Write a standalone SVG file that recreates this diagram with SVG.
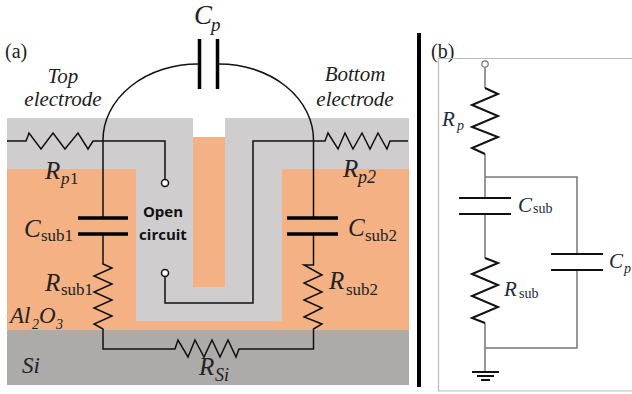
<svg xmlns="http://www.w3.org/2000/svg" width="632" height="394" viewBox="0 0 632 394">
<style>
.w{fill:none;stroke:#111;stroke-width:1.5;stroke-linejoin:miter}
.g{fill:none;stroke:#777;stroke-width:1.5}
.z{fill:none;stroke:#111;stroke-width:2}
.p{fill:none;stroke:#000;stroke-width:3.5}
.o{fill:#fff;stroke:#111;stroke-width:1.5}
text{font-family:"Liberation Serif",serif;fill:#222}
.i{font-style:italic}
.s{font-family:"Open Sans",sans-serif;font-weight:700;font-size:15px;fill:#111}
.b{fill:#1a2a3a}
</style>
<g id="device">
<rect x="7" y="118" width="186" height="52" fill="#cfcdce"/>
<rect x="225" y="118" width="184" height="52" fill="#cfcdce"/>
<rect x="7" y="169" width="402" height="161" fill="#f4b183"/>
<rect x="136" y="169" width="146" height="152" fill="#cfcdce"/>
<rect x="193" y="137" width="32" height="150" fill="#f4b183"/>
<rect x="7" y="330" width="402" height="55" fill="#adaaaa"/>
</g>
<g id="connectors">
<path class="w" d="M198 64A95 76 0 0 0 103 140V218"/>
<path class="w" d="M219 64A94.500 76 0 0 1 313.500 140V218"/>
<path class="w" d="M103 234V264L112 268 94 276 112 284 94 292 112 300 94 308 112 316 94 324 103 329V349H175L178 340 188 357 195 340 204 357 212 340 220 357 228 340 236 357 239 349H313.500V329L322 324 304 317 322 308 304 300 322 292 304 283 322 275 304 265H313.500V234"/>
<path class="w" d="M7 141H26L29 133 41 149 53 133 65 149 78 133 88 149 93 141H165V179"/>
<path class="w" d="M165 277V303H253V141H325L328 133 338 149 345 133 353 149 362 133 370 149 378 133 387 149 390 141H408"/>
<path class="g" d="M485 66V88M485 154V198M485 214V258M485 323V372"/>
<path class="g" d="M485 177H577V254M577 270V348H485"/>
<path class="z" d="M485 88L498 94 472 105 498 116 472 127 498 137 472 148 485 154"/>
<path class="z" d="M485 258L498 263 472 274 498 285 472 296 498 307 472 318 485 323"/>
</g>
<g id="Cp"><path class="p" d="M199.500 39V89M217.500 39V89"/><text class="i" x="194" y="24" font-size="27">C</text><text class="i" x="211" y="31" font-size="19">p</text></g>
<g id="Csub1"><path class="p" d="M78 218H128M78 234H128"/><text class="i" x="24" y="237" font-size="25">C</text><text x="41" y="241" font-size="17">sub1</text></g>
<g id="Csub2"><path class="p" d="M287 218H338M287 234H338"/><text class="i" x="348" y="236" font-size="25">C</text><text x="365" y="241" font-size="17">sub2</text></g>
<g id="Rp1"><text class="i" x="45" y="179" font-size="25">R</text><text class="i" x="61" y="184" font-size="17">p</text><text x="70" y="184" font-size="17">1</text></g>
<g id="Rp2"><text class="i" x="343" y="177" font-size="25">R</text><text class="i" x="358" y="183" font-size="18">p2</text></g>
<g id="Rsub1"><text class="i" x="45" y="291" font-size="25">R</text><text x="61" y="295" font-size="17">sub1</text></g>
<g id="Rsub2"><text class="i" x="329" y="289" font-size="25">R</text><text x="346" y="295" font-size="17">sub2</text></g>
<g id="RSi"><text class="i" x="199" y="375" font-size="25">R</text><text class="i" x="215" y="381" font-size="18">Si</text></g>
<g id="labels">
<text x="5" y="58" font-size="20">(a)</text>
<text class="i" x="63" y="83" font-size="21" text-anchor="middle">Top</text>
<text class="i" x="63" y="106" font-size="21" text-anchor="middle">electrode</text>
<text class="i" x="355" y="81" font-size="21" text-anchor="middle">Bottom</text>
<text class="i" x="355" y="106" font-size="21" text-anchor="middle">electrode</text>
<text class="s" x="163" y="217" text-anchor="middle">Open</text>
<text class="s" x="163" y="240" text-anchor="middle">circuit</text>
<text class="i" x="10" y="323" font-size="23">Al</text><text class="i" x="32" y="329" font-size="14">2</text><text class="i" x="39" y="323" font-size="23">O</text><text class="i" x="56" y="329" font-size="14">3</text>
<text class="i" x="22" y="373" font-size="23">Si</text>
<text x="431" y="58" font-size="20">(b)</text>
</g>
<g id="contacts"><circle class="o" cx="165" cy="183" r="3.500"/><circle class="o" cx="165" cy="273" r="3.500"/></g>
<g id="divider"><path d="M419 33V387" stroke="#000" stroke-width="4" fill="none"/></g>
<g id="panel-b">
<path d="M632 58.500H438.500V391H632" fill="none" stroke="#bbb" stroke-width="1.200"/>
<circle cx="485" cy="64" r="3.200" fill="#fff" stroke="#777" stroke-width="1.200"/>
<path d="M459 198H511M459 214H511M551 254H603M551 270H603" stroke="#111" stroke-width="2.200" fill="none"/>
<path d="M472 372H499M477 376H494M481 380H490" stroke="#111" stroke-width="2" fill="none"/>
<text class="i b" x="442" y="126" font-size="21">R</text><text class="i b" x="457" y="130" font-size="14">p</text>
<text class="i b" x="518" y="212" font-size="21">C</text><text class="b" x="533" y="213" font-size="14">sub</text>
<text class="i b" x="504" y="296" font-size="21">R</text><text class="b" x="519" y="298" font-size="14">sub</text>
<text class="i b" x="609" y="268" font-size="21">C</text><text class="i b" x="624" y="273" font-size="14">p</text>
</g>
</svg>
